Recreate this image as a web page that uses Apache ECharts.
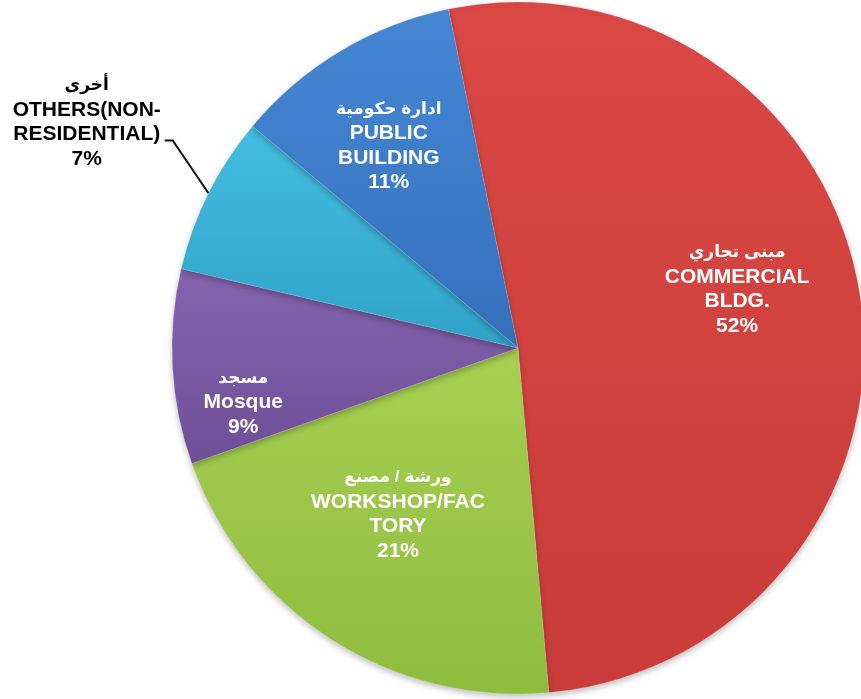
<!DOCTYPE html>
<html>
<head>
<meta charset="utf-8">
<script src="https://cdn.jsdelivr.net/npm/echarts@6/dist/echarts.min.js"></script>
<style>
  html, body { margin: 0; padding: 0; background: #fff; }
  #main { width: 861px; height: 699px; }
</style>
</head>
<body>
<div id="main"></div>
<script>
var names = ['COMMERCIAL\nBLDG.', 'WORKSHOP/FAC\nTORY', 'Mosque', 'OTHERS(NON-\nRESIDENTIAL)', 'PUBLIC\nBUILDING'];
var arabic = ['مبنى تجاري', 'ورشة / مصنع', 'مسجد', 'أخرى', 'ادارة حكومية'];
var values = [51.8, 21.0, 9.1, 7.4, 10.7];

var topColors = ['#da4845', '#a8cf52', '#8564ae', '#44bde0', '#4587d3'];
var bottomColors = ['#c83c39', '#8fbc3f', '#6e4f97', '#2fa3c7', '#3670bb'];
// label nudges (x, y) away from the default inside position
var nudges = [[45, -33], [-25, 18], [-99, 45], [-73, -53], [-39, -51]];

var myChart = echarts.init(document.getElementById('main'));

var pieData = values.map(function (v, i) {
    var item = {
        name: names[i],
        value: v,
        ar: arabic[i],
        itemStyle: {
            color: {
                type: 'linear', x: 0, y: 0, x2: 0, y2: 1,
                colorStops: [
                    { offset: 0, color: topColors[i] },
                    { offset: 1, color: bottomColors[i] }
                ]
            }
        }
    };
    if (i === 3) {
        item.label = {
            position: 'outside',
            rich: {
                ar: { color: '#000', fontSize: 17, fontWeight: 'bold', lineHeight: 24.5, align: 'center' },
                en: { color: '#000', fontSize: 21, fontWeight: 'bold', lineHeight: 24.5, align: 'center' }
            }
        };
        item.labelLine = { show: true, length: 40, length2: 8, lineStyle: { color: '#111', width: 2 } };
    }
    return item;
});

var option = {
    backgroundColor: '#fff',
    animation: false,
    textStyle: { fontFamily: "'Liberation Sans', 'DejaVu Sans', Arial, sans-serif" },
    series: [{
        type: 'pie',
        center: [518, 348],
        radius: 346,
        startAngle: 101.6,
        clockwise: true,
        avoidLabelOverlap: false,
        data: pieData,
        itemStyle: {
            borderColor: 'rgba(255,255,255,0.25)',
            borderWidth: 0.6,
            shadowBlur: 6,
            shadowOffsetY: 3,
            shadowColor: 'rgba(0,0,0,0.25)'
        },
        label: {
            show: true,
            position: 'inside',
            formatter: function (p) {
                var lines = ['{ar|' + p.data.ar + '}'];
                p.name.split('\n').forEach(function (s) { lines.push('{en|' + s + '}'); });
                lines.push('{en|' + Math.round(p.percent) + '%}');
                return lines.join('\n');
            },
            rich: {
                ar: { color: '#fff', fontSize: 17, fontWeight: 'bold', lineHeight: 24.5, align: 'center' },
                en: { color: '#fff', fontSize: 21, fontWeight: 'bold', lineHeight: 24.5, align: 'center' }
            }
        },
        labelLine: { show: false },
        labelLayout: function (params) {
            var n = nudges[params.dataIndex];
            var res = { dx: n[0], dy: n[1] };
            if (params.dataIndex === 3 && params.labelLinePoints) {
                var pts = params.labelLinePoints;
                res.labelLinePoints = [
                    [pts[0][0], pts[0][1]],
                    [pts[1][0], pts[1][1] - 35],
                    [pts[2][0], pts[2][1] - 35]
                ];
                res.align = 'center';
            }
            return res;
        }
    }]
};

myChart.setOption(option);

window.onresize = function () {
    myChart.resize();
};
</script>
</body>
</html>
